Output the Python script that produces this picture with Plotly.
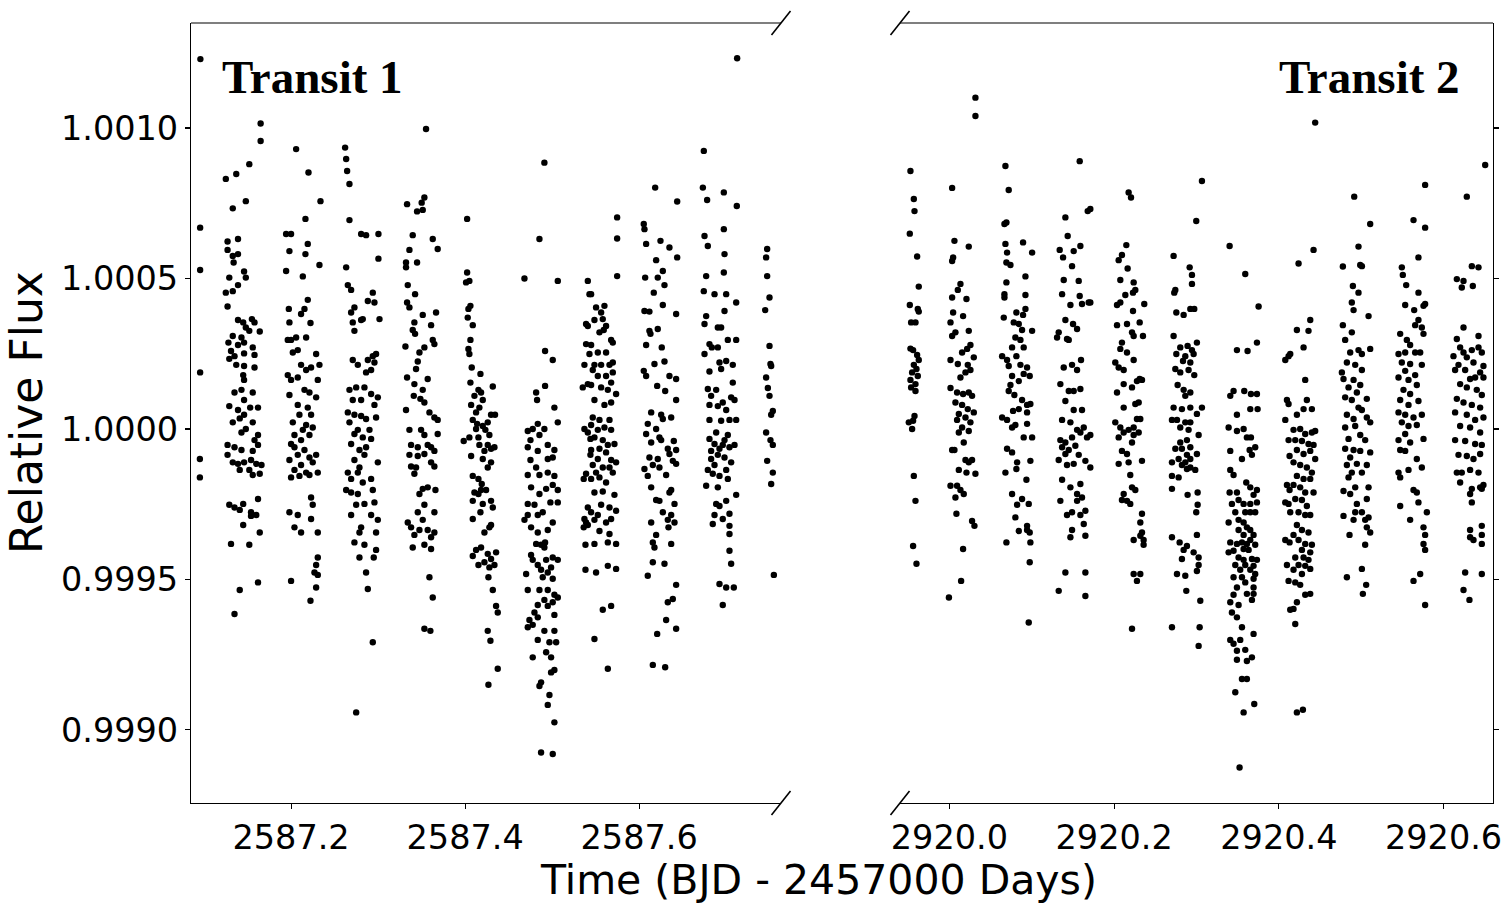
import plotly.graph_objects as go

# ---------------- data ----------------
# time = base + fraction (days), flux = 1 + ppm * 1e-6
T1_BASE = 2587.0
T2_BASE = 2920.0

# Transit 1 clusters: (time fraction, flux ppm)
t1_edge = [(.0958, 1229), (.0955, 669), (.0955, 528), (.0955, 188), (.0952, -100), (.0952, -161)]
t1_a = [(.165,1015),(.165,957),(.152,880),(.137,847),(.125,831),(.148,757),(.133,733),(.127,623),(.139,631),(.127,595),
        (.133,575),(.139,581),(.134,553),(.146,523),(.148,503),(.129,503),(.139,478),(.125,453),(.133,458),(.127,407),
        (.139,362),(.145,354),(.155,365),(.158,354),(.148,337),(.152,326),(.164,324),(.133,309),(.143,304),(.146,287),
        (.128,287),(.139,279),(.156,271),(.131,259),(.135,242),(.146,251),(.158,246),(.129,233),(.137,213),(.146,209),
        (.158,204),(.145,179),(.146,163),(.135,121),(.143,130),(.156,121),(.146,96),(.129,76),(.139,63),(.146,47),
        (.153,71),(.162,71),(.141,35),(.133,22),(.156,22),(.148,0),(.143,-12),(.162,-20),(.127,-53),(.158,-37),
        (.135,-61),(.143,-70),(.156,-73),(.162,-53),(.127,-86),(.133,-111),(.139,-116),(.146,-111),(.154,-103),(.160,-116),
        (.166,-120),(.141,-136),(.152,-136),(.156,-153),(.164,-149),(.129,-252),(.135,-261),(.145,-249),(.141,-269),(.154,-277),
        (.160,-286),(.162,-233),(.145,-319),(.154,-289),(.131,-382),(.152,-385),(.164,-344),(.141,-535),(.162,-510),(.135,-615)]
t1_b = [(.2058,930),(.2200,852),(.2338,757),(.2165,698),(.1943,648),(.2000,648),(.2192,615),(.1981,591),(.2165,581),(.2326,545),
        (.1943,525),(.2135,507),(.2192,429),(.2154,399),(.1974,399),(.2115,382),(.1981,354),(.2223,352),(.2000,296),(.2058,304),
        (.1962,296),(.2173,304),(.2020,254),(.2077,262),(.2288,249),(.2115,213),(.2326,213),(.2230,204),(.2173,196),(.1962,179),
        (.2077,171),(.2307,163),(.2000,163),(.2154,130),(.1981,113),(.2211,121),(.2288,105),(.2077,80),(.2192,71),(.2230,47),
        (.2096,47),(.2020,22),(.2173,13),(.2249,5),(.2135,-3),(.2039,-20),(.2211,-20),(.2115,-37),(.2000,-50),(.2288,-86),
        (.2039,-61),(.2154,-70),(.2077,-86),(.2211,-95),(.1981,-103),(.2249,-111),(.2115,-120),(.2039,-136),(.2173,-145),(.2096,-156),
        (.2307,-145),(.2000,-161),(.2211,-153),(.2230,-228),(.1981,-277),(.2077,-286),(.2249,-252),(.2230,-299),(.2039,-327),(.2115,-344),
        (.2307,-344),(.2307,-427),(.2288,-452),(.2269,-477),(.2307,-485),(.2288,-527),(.2000,-505),(.2223,-571)]
t1_c = [(.2621,935),(.2633,897),(.2644,857),(.2671,814),(.2671,694),(.2805,648),(.2862,644),(.3004,648),(.3004,566),(.2633,537),
        (.2652,478),(.2690,462),(.2939,453),(.2882,425),(.2958,420),(.2728,404),(.3016,365),(.2690,387),(.2805,362),(.2709,354),
        (.2728,326),(.2824,365),(.2977,249),(.2939,242),(.2882,229),(.2958,221),(.2709,229),(.2767,213),(.2920,196),(.2862,188),
        (.2671,130),(.2748,138),(.2843,138),(.2920,116),(.2997,105),(.2709,96),(.2805,96),(.2958,80),(.2652,55),(.2728,47),
        (.2805,43),(.2862,33),(.2977,38),(.2671,22),(.2767,-3),(.2901,-3),(.2728,-17),(.2824,-28),(.2920,-33),(.2690,-50),
        (.2786,-70),(.2862,-61),(.2843,-86),(.2997,-111),(.2728,-103),(.2786,-128),(.2652,-145),(.2767,-145),(.2690,-166),(.2920,-166),
        (.2824,-178),(.2633,-203),(.2690,-211),(.2767,-216),(.2939,-203),(.2843,-249),(.2748,-252),(.2958,-244),(.2690,-286),(.2920,-286),
        (.2805,-327),(.2786,-344),(.2997,-302),(.2728,-377),(.2843,-385),(.2977,-344),(.2977,-402),(.2786,-427),(.2950,-427),(.2862,-477),
        (.2882,-532),(.2939,-709),(.2748,-942)]
t1_d = [(.3551,997),(.3333,747),(.3448,723),(.3513,728),(.3532,769),(.3501,752),(.3398,644),(.3628,631),(.3360,595),(.3685,598),
        (.3321,553),(.3448,553),(.3321,537),(.3341,478),(.3425,448),(.3333,420),(.3360,404),(.3513,379),(.3666,387),(.3417,354),
        (.3398,329),(.3609,345),(.3425,316),(.3314,274),(.3532,271),(.3475,254),(.3647,282),(.3628,296),(.3456,224),(.3436,199),
        (.3333,171),(.3570,166),(.3417,149),(.3513,130),(.3410,110),(.3486,100),(.3532,88),(.3321,63),(.3590,55),(.3647,38),
        (.3685,30),(.3360,-3),(.3494,-3),(.3532,-20),(.3685,-17),(.3379,-53),(.3456,-61),(.3570,-53),(.3609,-61),(.3647,-73),
        (.3360,-86),(.3456,-90),(.3532,-83),(.3609,-111),(.3647,-125),(.3379,-125),(.3436,-128),(.3417,-149),(.3513,-199),(.3570,-194),
        (.3659,-203),(.3475,-216),(.3532,-252),(.3456,-277),(.3513,-302),(.3647,-277),(.3341,-311),(.3379,-327),(.3475,-336),(.3417,-352),
        (.3570,-336),(.3609,-360),(.3647,-344),(.3532,-385),(.3398,-394),(.3609,-399),(.3590,-493),(.3628,-560),(.3532,-664),(.3601,-671)]
t1_e = [(.4023,698),(.4023,520),(.4049,492),(.4011,487),(.4061,409),(.4038,399),(.4030,370),(.4088,345),(.4061,296),(.4038,266),
        (.4049,249),(.4076,204),(.4176,183),(.4318,141),(.4061,154),(.4153,130),(.4183,121),(.4107,110),(.4203,96),(.4069,80),
        (.4164,71),(.4126,55),(.4298,47),(.4344,47),(.4088,30),(.4138,17),(.4203,10),(.4260,22),(.4126,0),(.4233,-3),
        (.3984,-40),(.4049,-28),(.4153,-28),(.4279,-20),(.4164,-53),(.4260,-53),(.4298,-66),(.4222,-73),(.4337,-61),(.4203,-100),
        (.4069,-90),(.4260,-128),(.4298,-111),(.4088,-156),(.4153,-166),(.4191,-183),(.4241,-203),(.4107,-211),(.4153,-216),(.4183,-203),
        (.4088,-239),(.4298,-239),(.4203,-249),(.4318,-261),(.4176,-277),(.4088,-299),(.4298,-319),(.4222,-344),(.4279,-327),(.4126,-402),
        (.4183,-394),(.4088,-422),(.4153,-452),(.4260,-415),(.4298,-432),(.4356,-410),(.4279,-460),(.4337,-452),(.4222,-443),(.4268,-493),
        (.4318,-535),(.4356,-588),(.4375,-610),(.4260,-671),(.4291,-704),(.4375,-797),(.4268,-850)]
t1_f = [(.4911,885),(.4854,631),(.4682,500),(.5065,492),(.4919,259),(.5007,229),(.4816,121),(.4919,143),(.4827,96),(.4720,-7),
        (.4777,0),(.4911,0),(.5026,71),(.4835,17),(.5065,22),(.4751,-37),(.4854,-20),(.4950,-53),(.4720,-61),(.4835,-73),
        (.5026,-70),(.4751,-103),(.4950,-100),(.5007,-95),(.4816,-128),(.4720,-153),(.4854,-153),(.4950,-145),(.5026,-156),(.5007,-186),
        (.4758,-194),(.4931,-199),(.5065,-203),(.4854,-216),(.4720,-249),(.4797,-252),(.4980,-244),(.5065,-244),(.4835,-286),(.4720,-286),
        (.4892,-277),(.5007,-311),(.4682,-302),(.4758,-327),(.4835,-344),(.4950,-336),(.4816,-382),(.4873,-385),(.4919,-377),(.4758,-419),
        (.4911,-394),(.5065,-435),(.4777,-435),(.5007,-427),(.4835,-452),(.4931,-435),(.4873,-468),(.4950,-477),(.4701,-482),(.4988,-460),
        (.4892,-493),(.5007,-498),(.4720,-535),(.4854,-535),(.4950,-535),(.5026,-551),(.4911,-568),(.5007,-576),(.4835,-585),(.4950,-588),
        (.5065,-560),(.4797,-610),(.4739,-635),(.4835,-626),(.5026,-618),(.4777,-651),(.4720,-659),(.4911,-671),(.5026,-671),(.4835,-701),
        (.4969,-709),(.5046,-709),(.4777,-759),(.4931,-742),(.4988,-759),(.5026,-801),(.4873,-842),(.4854,-854),(.4988,-809),(.4969,-884),
        (.4950,-917),(.5026,-975),(.4873,-1075),(.5007,-1080)]
t1_g = [(.5410,492),(.5429,448),(.5390,349),(.5410,342),(.5390,282),(.5429,249),(.5371,213),(.5410,149),(.5352,138),(.5371,0),
        (.5410,-12),(.5440,-33),(.5390,-149),(.5363,-166),(.5440,-86),(.5410,-261),(.5371,-299),(.5390,-311),(.5363,-327),(.5410,-319),
        (.5383,-385),(.5383,-468),
        (.5747,703),(.5747,633),(.5747,508),(.5448,448),(.5505,404),(.5601,409),(.5563,387),(.5486,362),(.5582,365),(.5620,342),
        (.5544,321),(.5593,329),(.5678,296),(.5697,287),(.5448,279),(.5525,254),(.5620,254),(.5486,213),(.5563,213),(.5659,213),
        (.5697,221),(.5467,196),(.5525,176),(.5620,176),(.5697,188),(.5678,154),(.5448,146),(.5563,138),(.5640,130),(.5735,116),
        (.5486,96),(.5601,80),(.5678,88),(.5467,38),(.5544,30),(.5659,30),(.5448,13),(.5525,-3),(.5601,5),(.5678,-3),
        (.5486,-28),(.5582,-37),(.5640,-53),(.5716,-50),(.5448,-70),(.5544,-66),(.5620,-78),(.5525,-100),(.5678,-103),(.5735,-111),
        (.5467,-120),(.5582,-128),(.5659,-128),(.5505,-145),(.5697,-145),(.5448,-166),(.5544,-161),(.5620,-178),(.5486,-211),(.5582,-208),
        (.5716,-219),(.5563,-252),(.5659,-261),(.5735,-272),(.5448,-277),(.5525,-286),(.5678,-299),(.5486,-302),(.5620,-311),(.5544,-339),
        (.5659,-349),(.5640,-377),(.5735,-382),(.5486,-382),(.5505,-477),(.5640,-455),(.5735,-465),(.5582,-601),(.5678,-588),(.5486,-698),
        (.5640,-797)]
t1_h = [(.6184,802),(.6437,756),(.6053,681),(.6061,664),(.6080,615),(.6245,625),(.6348,603),(.6437,570),(.6195,561),(.6069,503),
        (.6214,503),(.6272,525),(.6291,478),(.6168,453),(.6272,412),(.6061,392),(.6118,390),(.6425,382),(.6214,332),(.6118,326),
        (.6130,316),(.6080,279),(.6260,271),(.6176,216),(.6291,224),(.6053,193),(.6080,176),(.6207,143),(.6299,126),(.6348,176),
        (.6425,166),(.6425,96),(.6138,55),(.6253,47),(.6272,33),(.6368,38),(.6099,17),(.6195,0),(.6080,-17),(.6233,-28),
        (.6138,-45),(.6253,-37),(.6398,-40),(.6329,-66),(.6425,-70),(.6118,-95),(.6214,-100),(.6348,-83),(.6387,-106),(.6157,-120),
        (.6425,-116),(.6061,-133),(.6233,-128),(.6099,-156),(.6310,-153),(.6138,-194),(.6368,-203),(.6348,-211),(.6195,-236),(.6233,-239),
        (.6406,-249),(.6272,-277),(.6368,-286),(.6329,-302),(.6138,-311),(.6406,-311),(.6337,-327),(.6195,-352),(.6157,-377),(.6368,-382),
        (.6176,-394),(.6157,-443),(.6291,-448),(.6099,-488),(.6425,-518),(.6387,-565),(.6329,-576),(.6310,-635),(.6425,-664),(.6207,-681),
        (.6157,-784),(.6299,-792)]
t1_i = [(.7126,1232),(.6743,924),(.6732,802),(.6781,761),(.6973,786),(.7122,741),(.6751,641),(.6789,608),(.6973,664),(.6981,581),
        (.6770,508),(.6973,520),(.6743,458),(.6866,448),(.7000,448),(.6981,392),(.7115,420),(.6770,375),(.6751,349),(.6904,337),
        (.6942,337),(.6808,282),(.6751,249),(.6835,271),(.6904,271),(.7019,296),(.7115,296),(.6923,221),(.7000,226),(.7076,213),
        (.6808,191),(.6942,199),(.6789,133),(.6885,130),(.6827,110),(.7076,154),(.7057,105),(.6961,88),(.7096,96),(.6808,80),
        (.7000,63),(.6904,76),(.6808,30),(.6942,27),(.7038,30),(.7115,30),(.6885,-12),(.7019,-20),(.6808,-33),(.6981,-37),
        (.6866,-50),(.6961,-53),(.7096,-53),(.6827,-73),(.6923,-66),(.7038,-61),(.6904,-86),(.6827,-100),(.6981,-95),(.7057,-111),
        (.6866,-120),(.6789,-136),(.7000,-136),(.6846,-149),(.6923,-156),(.6770,-189),(.6904,-194),(.7019,-166),(.7115,-219),(.6885,-249),
        (.7000,-239),(.6923,-256),(.6866,-286),(.7038,-282),(.6961,-299),(.6846,-316),(.7038,-322),(.7038,-349),(.7038,-405),(.7057,-448),
        (.6923,-515),(.7000,-527),(.7088,-527),(.6961,-585)]
t1_j = [(.7471,598),(.7459,570),(.7471,508),(.7498,437),(.7448,395),(.7498,276),(.7509,216),(.7517,209),(.7459,171),(.7479,136),
        (.7498,110),(.7536,60),(.7517,47),(.7459,-12),(.7509,-37),(.7536,-53),(.7471,-106),(.7536,-145),(.7517,-183),(.7548,-485)]

# Transit 2 clusters: (time offset from 2920.0, flux ppm)
t2_k = [(-.0473,857),(-.0432,764),(-.0424,724),(-.0481,649),(-.0392,573),(-.0372,473),(-.0481,412),(-.0384,399),(-.0372,390),(-.0465,354),
        (-.0412,354),(-.0473,267),(-.0441,262),(-.0392,246),(-.0372,229),(-.0432,213),(-.0400,199),(-.0453,188),(-.0384,176),(-.0473,163),
        (-.0412,149),(-.0465,138),(-.0412,126),(-.0424,43),(-.0493,22),(-.0441,27),(-.0453,0),(-.0432,-156),(-.0412,-239),(-.0441,-389),
        (-.0400,-448)]
t2_l = [(.0316,1101),(.0316,1040),(.0033,801),(.0061,625),(.0235,606),(.0045,570),(.0033,558),(.0134,482),(.0102,462),(.0033,437),
        (.0207,432),(.0045,387),(.0166,375),(.0013,354),(.0235,326),(.0033,309),(.0073,321),(.0255,279),(.0215,266),(.0154,254),
        (.0296,238),(.0013,229),(.0102,216),(.0223,213),(.0255,196),(.0195,188),(.0134,171),(.0013,136),(.0093,121),(.0166,116),
        (.0235,121),(.0275,110),(.0073,88),(.0154,80),(.0223,66),(.0114,50),(.0296,55),(.0195,38),(.0093,30),(.0255,22),
        (.0154,5),(.0114,-12),(.0235,-7),(.0174,-45),(.0033,-70),(.0061,-70),(.0275,-103),(.0195,-103),(.0316,-149),(.0235,-111),
        (.0114,-136),(.0207,-145),(.0013,-189),(.0093,-189),(.0134,-203),(.0174,-216),(.0073,-228),(.0085,-282),(.0275,-306),(.0304,-322),
        (.0166,-399),(.0142,-505),(-.0006,-560)]
t2_m = [(.0680,874),(.0720,794),(.0692,686),(.0668,681),(.0680,615),(.0894,620),(.0700,586),(.1004,586),(.0692,553),(.0741,545),
        (.0923,507),(.0692,487),(.0668,448),(.0668,437),(.0923,445),(.0813,387),(.0923,399),(.0894,379),(.0660,370),(.0781,354),
        (.0842,349),(.0882,329),(.1004,326),(.0801,304),(.0862,296),(.0761,271),(.0902,271),(.0640,242),(.0700,229),(.0813,242),
        (.0720,209),(.0862,213),(.0943,204),(.0761,176),(.0902,183),(.0975,176),(.0842,159),(.0741,146),(.0720,126),(.0789,113),
        (.0882,96),(.0943,80),(.0983,83),(.0842,66),(.0773,60),(.0943,55),(.0640,38),(.0700,30),(.0801,13),(.0761,5),
        (.0943,17),(.0902,-28),(.1004,-28),(.0700,-66),(.0761,-78),(.0822,-111),(.0983,-106),(.0680,-145),(.0813,-133),(.0935,-169),
        (.0761,-216),(.0882,-233),(.0963,-249),(.0822,-252),(.0801,-294),(.0943,-322),(.0975,-344),(.0943,-336),(.0842,-339),(.0692,-377),
        (.0983,-377),(.0975,-443),(.0963,-643)]
t2_n = [(.1582,890),(.1679,724),(.1408,703),(.1436,641),(.1590,608),(.1509,591),(.1339,595),(.1380,570),(.1489,541),(.1570,492),
        (.1388,495),(.1368,448),(.1469,412),(.1582,442),(.1610,415),(.1691,420),(.1408,362),(.1501,349),(.1550,332),(.1327,321),
        (.1428,299),(.1449,296),(.1307,304),(.1598,229),(.1388,204),(.1489,213),(.1550,196),(.1347,149),(.1449,126),(.1509,126),
        (.1590,133),(.1408,93),(.1509,63),(.1610,63),(.1368,30),(.1469,22),(.1550,-3),(.1631,5),(.1347,-37),(.1408,-45),
        (.1489,-28),(.1590,-12),(.1368,-61),(.1449,-70),(.1529,-56),(.1671,-28),(.1408,-83),(.1570,-86),(.1327,-103),(.1428,-120),
        (.1509,-116),(.1651,-106),(.1368,-169),(.1469,-194),(.1590,-183),(.1550,-216),(.1610,-228),(.1347,-239),(.1550,-239),(.1489,-277),
        (.1590,-286),(.1428,-286),(.1651,-272),(.1489,-336),(.1631,-316),(.1469,-360),(.1651,-355),(.1408,-477),(.1651,-477),(.1327,-538),
        (.1651,-555),(.1711,731),(.1711,420),(.1711,-20),(.1711,-128)]
t2_o = [(.2176,786),(.2205,769),(.2148,611),(.2095,578),(.2055,561),(.2164,533),(.2075,495),(.2237,487),(.2257,462),(.2136,445),
        (.2229,453),(.2035,412),(.2075,420),(.2366,415),(.2229,392),(.2156,349),(.2310,354),(.2035,345),(.2217,321),(.2237,309),
        (.2350,309),(.2095,287),(.2075,266),(.2156,254),(.2237,229),(.2014,221),(.2055,204),(.2116,196),(.2310,166),(.2338,163),
        (.2277,159),(.2116,149),(.2217,138),(.2035,121),(.2298,88),(.2257,83),(.2116,71),(.2014,22),(.2075,5),(.2176,-3),
        (.2237,5),(.2298,-12),(.2237,-20),(.2055,-28),(.2318,33),(.2277,33),(.2116,-12),(.2217,-45),(.2095,-73),(.2156,-83),
        (.2055,-116),(.2176,-111),(.2338,-106),(.2196,-153),(.2217,-194),(.2257,-203),(.2116,-216),(.2095,-236),(.2156,-239),(.2196,-249),
        (.2338,-282),(.2318,-311),(.2338,-344),(.2237,-369),(.2318,-355),(.2358,-385),(.2358,-369),(.2237,-482),(.2318,-482),(.2277,-505),
        (.2217,-664)]
t2_p = [(.3066,824),(.2997,691),(.2722,575),(.2917,537),(.2945,512),(.2945,482),(.2743,462),(.2730,453),(.2925,399),(.2973,399),
        (.2755,387),(.2844,379),(.2722,309),(.3005,287),(.2803,271),(.2892,276),(.2945,262),(.2755,249),(.2864,242),(.2965,249),
        (.2836,226),(.2925,221),(.2743,199),(.2803,188),(.2904,196),(.2973,179),(.2771,146),(.2844,130),(.2925,121),(.2864,110),
        (.2722,71),(.2823,66),(.2925,71),(.3066,71),(.3005,50),(.2702,30),(.2763,30),(.2864,22),(.2925,22),(.2803,5),
        (.2904,-3),(.3026,-20),(.2803,-45),(.2884,-37),(.2743,-66),(.2823,-66),(.2925,-61),(.2884,-86),(.2783,-100),(.2925,-100),
        (.3005,-83),(.2702,-111),(.2864,-111),(.2823,-120),(.2925,-128),(.2985,-136),(.2702,-156),(.2783,-161),(.2884,-133),(.2702,-199),
        (.2892,-219),(.3014,-211),(.3014,-252),(.2997,-277),(.2702,-360),(.2795,-377),(.2884,-389),(.2844,-402),(.2823,-432),(.3005,-352),
        (.2965,-410),(.3026,-427),(.3026,-452),(.2763,-482),(.2864,-488),(.3005,-472),(.2876,-538),(.3046,-571),(.2702,-659),(.3038,-659),
        (.3026,-721)]
t2_q = [(.3402,608),(.3592,515),(.3754,407),(.3491,262),(.3620,259),(.3734,287),(.3450,126),(.3580,126),(.3661,116),(.3734,116),
        (.3410,110),(.3491,47),(.3653,66),(.3742,66),(.3390,5),(.3491,-7),(.3572,0),(.3612,-28),(.3661,-28),(.3410,-73),
        (.3645,-70),(.3713,-61),(.3673,-86),(.3552,-100),(.3410,-136),(.3450,-153),(.3604,-178),(.3653,-194),(.3734,-203),(.3402,-211),
        (.3491,-211),(.3693,-219),(.3430,-249),(.3511,-236),(.3572,-249),(.3653,-249),(.3734,-244),(.3471,-277),(.3592,-277),(.3511,-302),
        (.3653,-277),(.3713,-277),(.3390,-311),(.3572,-311),(.3612,-327),(.3511,-336),(.3653,-336),(.3572,-352),(.3693,-352),(.3410,-377),
        (.3491,-382),(.3552,-377),(.3612,-382),(.3653,-369),(.3713,-385),(.3390,-410),(.3450,-405),(.3572,-399),(.3633,-402),(.3511,-427),
        (.3572,-435),(.3673,-432),(.3734,-435),(.3471,-452),(.3592,-452),(.3693,-455),(.3531,-468),(.3653,-468),(.3713,-482),(.3450,-493),
        (.3552,-493),(.3693,-498),(.3592,-510),(.3491,-527),(.3693,-527),(.3450,-551),(.3612,-548),(.3693,-548),(.3410,-576),(.3511,-585),
        (.3673,-568),(.3430,-610),(.3491,-626),(.3552,-659),(.3410,-701),(.3450,-714),(.3531,-701),(.3693,-681),(.3592,-734),(.3491,-737),
        (.3612,-771),(.3673,-759),(.3491,-767),(.3552,-831),(.3612,-831),(.3471,-875),(.3572,-942),(.3701,-914),(.3523,-1125)]
t2_r = [(.4078,229),(.4118,242),(.4098,96),(.4118,83),(.4078,30),(.4118,-37),(.4130,-90),(.4098,-186),(.4130,-203),(.4078,-244),
        (.4118,-249),(.4078,-369),(.4130,-377),(.4098,-452),(.4118,-505),(.4138,-601),
        (.4441,1018),(.4421,595),(.4239,550),(.4381,362),(.4360,326),(.4138,249),(.4219,329),(.4300,271),(.4320,163),(.4340,96),
        (.4300,66),(.4401,66),(.4219,47),(.4178,-3),(.4259,0),(.4320,-17),(.4401,-12),(.4441,-7),(.4199,-37),(.4280,-40),
        (.4360,-50),(.4421,-53),(.4219,-70),(.4300,-83),(.4381,-73),(.4441,-100),(.4178,-111),(.4259,-120),(.4340,-128),(.4401,-145),
        (.4219,-156),(.4300,-166),(.4381,-166),(.4178,-186),(.4259,-194),(.4320,-211),(.4421,-211),(.4199,-233),(.4280,-236),(.4340,-256),
        (.4138,-277),(.4239,-277),(.4320,-286),(.4381,-286),(.4219,-319),(.4280,-336),(.4360,-344),(.4178,-352),(.4239,-369),(.4320,-382),
        (.4401,-385),(.4280,-402),(.4381,-410),(.4199,-427),(.4300,-427),(.4360,-435),(.4239,-452),(.4320,-455),(.4381,-465),(.4178,-468),
        (.4280,-482),(.4199,-510),(.4259,-518),(.4320,-551),(.4381,-548),(.4219,-576),(.4178,-598),(.4199,-648),(.4219,-942),(.4292,-933)]
t2_s = [(.4915,772),(.5109,681),(.4967,606),(.4777,540),(.4988,545),(.5008,541),(.4899,475),(.4967,453),(.4886,420),(.4907,395),
        (.5089,375),(.4777,345),(.4886,321),(.4805,296),(.4967,262),(.4866,254),(.5008,249),(.5109,266),(.4826,221),(.4927,213),
        (.5008,196),(.4765,188),(.4785,166),(.4907,163),(.4988,146),(.4846,138),(.4947,121),(.4805,105),(.4886,96),(.5068,100),
        (.4967,71),(.5008,63),(.4826,47),(.4907,33),(.5068,38),(.5109,22),(.4805,5),(.4927,10),(.4988,-20),(.4846,-33),
        (.5048,-37),(.4805,-66),(.4907,-70),(.4988,-73),(.4866,-95),(.5109,-78),(.4826,-120),(.4947,-116),(.5068,-120),(.4886,-145),
        (.5008,-145),(.4846,-161),(.4785,-206),(.4927,-194),(.4866,-216),(.5089,-194),(.5068,-233),(.4947,-249),(.4785,-289),(.4927,-277),
        (.5008,-277),(.5048,-302),(.5089,-294),(.5068,-327),(.4858,-352),(.5048,-385),(.5008,-465),(.5060,-518),(.5020,-548),(.4826,-493),
        (.5109,-344),(.4907,-302)]
t2_t = [(.5776,811),(.5635,694),(.5776,669),(.5695,570),(.5493,537),(.5505,512),(.5546,478),(.5695,453),(.5776,415),(.5756,409),
        (.5534,412),(.5643,395),(.5695,362),(.5655,345),(.5736,337),(.5756,316),(.5473,316),(.5554,296),(.5594,279),(.5453,249),
        (.5534,254),(.5655,254),(.5716,254),(.5493,221),(.5594,216),(.5736,213),(.5534,193),(.5655,179),(.5453,171),(.5574,163),
        (.5675,146),(.5513,130),(.5594,116),(.5473,96),(.5574,80),(.5695,93),(.5453,55),(.5534,47),(.5635,38),(.5736,47),
        (.5493,22),(.5574,10),(.5675,13),(.5534,-17),(.5453,-37),(.5594,-45),(.5756,-33),(.5473,-70),(.5534,-73),(.5675,-100),
        (.5736,-128),(.5453,-145),(.5574,-136),(.5473,-161),(.5635,-203),(.5675,-211),(.5695,-244),(.5797,-277),(.5473,-256),(.5594,-302),
        (.5756,-327),(.5776,-352),(.5756,-382),(.5776,-402),(.5635,-505),(.5716,-482),(.5776,-585)]
t2_u = [(.6505,877),(.6282,772),(.6424,537),(.6343,541),(.6161,498),(.6242,492),(.6221,470),(.6355,475),(.6242,337),(.6161,299),
        (.6424,309),(.6201,271),(.6242,254),(.6120,242),(.6282,238),(.6343,262),(.6424,271),(.6464,254),(.6181,213),(.6363,221),
        (.6484,209),(.6140,196),(.6262,196),(.6444,188),(.6322,166),(.6383,171),(.6484,171),(.6201,149),(.6282,138),(.6403,130),
        (.6464,113),(.6161,100),(.6242,88),(.6343,80),(.6444,71),(.6140,55),(.6282,47),(.6383,30),(.6484,38),(.6201,10),
        (.6322,5),(.6444,-12),(.6140,-37),(.6262,-40),(.6383,-50),(.6464,-53),(.6181,-86),(.6282,-90),(.6363,-100),(.6444,-83),
        (.6161,-145),(.6221,-145),(.6322,-136),(.6424,-145),(.6484,-186),(.6201,-178),(.6343,-199),(.6464,-199),(.6444,-194),(.6322,-216),
        (.6343,-244),(.6322,-336),(.6322,-360),(.6363,-369),(.6464,-322),(.6464,-352),(.6464,-382),(.6262,-477),(.6242,-535),(.6464,-482),
        (.6314,-568)]

transit1_clusters = [t1_edge, t1_a, t1_b, t1_c, t1_d, t1_e, t1_f, t1_g, t1_h, t1_i, t1_j]
transit2_clusters = [t2_k, t2_l, t2_m, t2_n, t2_o, t2_p, t2_q, t2_r, t2_s, t2_t, t2_u]

x1_ticks = [2587.2, 2587.4, 2587.6]
x2_ticks = [2920.0, 2920.2, 2920.4, 2920.6]
y_ticks = [0.9990, 0.9995, 1.0000, 1.0005, 1.0010]
x1_range = [2587.085, 2587.763]
x2_range = [2919.940, 2920.660]
y_range = [0.998757, 1.001349]


def unpack(clusters, base):
    xs, ys = [], []
    for cl in clusters:
        for dt, ppm in cl:
            xs.append(base + dt)
            ys.append(1.0 + ppm * 1e-6)
    return xs, ys


x1, y1 = unpack(transit1_clusters, T1_BASE)
x2, y2 = unpack(transit2_clusters, T2_BASE)

# ---------------- figure ----------------
W, H = 1511, 903
def px(x):
    return x / W
def py(y):
    return 1 - y / H

L0, L1 = 191, 781     # left panel pixel extent
R0, R1 = 900, 1493    # right panel pixel extent
TOP, BOT = 23, 803

TICKFONT = dict(family="DejaVu Sans", size=33.5, color="black")
mk = dict(color="black", size=6.4, line=dict(width=0))

fig = go.Figure()
fig.add_trace(go.Scatter(x=x1, y=y1, mode="markers", marker=mk, xaxis="x", yaxis="y",
                         showlegend=False, hoverinfo="skip"))
fig.add_trace(go.Scatter(x=x2, y=y2, mode="markers", marker=mk, xaxis="x2", yaxis="y2",
                         showlegend=False, hoverinfo="skip"))

axis_common = dict(showgrid=False, zeroline=False, showline=True, linecolor="black", linewidth=1.1,
                   ticks="outside", ticklen=5, tickwidth=1.1, tickcolor="black", tickfont=TICKFONT,
                   automargin=False)

fig.update_layout(
    width=W, height=H,
    autosize=False,
    margin=dict(l=0, r=0, t=0, b=0, pad=0, autoexpand=False),
    paper_bgcolor="white", plot_bgcolor="white",
    showlegend=False,
    xaxis=dict(domain=[px(L0), px(L1)], range=x1_range, anchor="y",
               tickvals=x1_ticks, ticktext=[f"{v:.1f}" for v in x1_ticks], **axis_common),
    yaxis=dict(domain=[py(BOT), py(TOP)], range=y_range, anchor="x",
               tickvals=y_ticks, ticktext=[f"{v:.4f}" for v in y_ticks], **axis_common),
    xaxis2=dict(domain=[px(R0), px(R1)], range=x2_range, anchor="y2",
                tickvals=x2_ticks, ticktext=[f"{v:.1f}" for v in x2_ticks], **axis_common),
    yaxis2=dict(domain=[py(BOT), py(TOP)], range=y_range, anchor="x2", side="right",
                tickvals=y_ticks, showticklabels=False, **axis_common),
)

shapes = []
line = dict(color="black", width=1.1)
# top spines
shapes.append(dict(type="line", xref="paper", yref="paper", x0=px(L0), x1=px(L1), y0=py(TOP), y1=py(TOP), line=line))
shapes.append(dict(type="line", xref="paper", yref="paper", x0=px(R0), x1=px(R1), y0=py(TOP), y1=py(TOP), line=line))
# break marks
bline = dict(color="black", width=1.6)
for cx in (L1, R0):
    for cy in (TOP, BOT):
        shapes.append(dict(type="line", xref="paper", yref="paper",
                           x0=px(cx - 9.5), y0=py(cy + 12), x1=px(cx + 9.5), y1=py(cy - 12), line=bline))
fig.update_layout(shapes=shapes)

ann = [
    dict(text="<b>Transit 1</b>", x=px(220), y=py(77), xanchor="left", yanchor="middle",
         font=dict(family="Liberation Serif", size=47, color="black")),
    dict(text="<b>Transit 2</b>", x=px(1462), y=py(77), xanchor="right", yanchor="middle",
         font=dict(family="Liberation Serif", size=47, color="black")),
    dict(text="Time (BJD - 2457000 Days)", x=px(818), y=py(880), xanchor="center", yanchor="middle",
         font=dict(family="DejaVu Sans", size=41, color="black")),
    dict(text="Relative Flux", x=px(27), y=py(413), xanchor="center", yanchor="middle", textangle=-90,
         font=dict(family="DejaVu Sans", size=44, color="black")),
]
for a in ann:
    a.update(xref="paper", yref="paper", showarrow=False)
fig.update_layout(annotations=ann)

fig.write_html("out.html",
               config={"displayModeBar": False, "staticPlot": True},
               post_script="document.body.style.margin='0';document.body.style.overflow='hidden';")
